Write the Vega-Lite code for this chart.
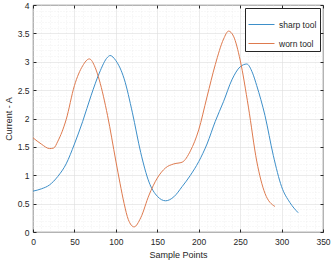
{
  "$schema": "https://vega.github.io/schema/vega-lite/v6.json",
  "width": 290,
  "height": 227,
  "autosize": {"type": "none"},
  "padding": {"left": 33, "top": 5, "right": 13, "bottom": 32},
  "background": "white",
  "config": {
    "font": "Liberation Sans",
    "view": {"stroke": "#262626", "strokeWidth": 0.8},
    "axis": {"labelFont": "Liberation Sans", "titleFont": "Liberation Sans", "labelColor": "#262626", "titleColor": "#262626", "labelFontSize": 8.5, "titleFontSize": 9, "titleFontWeight": "normal"}
  },
  "data": {"values": [
    {"x": 0, "y": 0.72, "tool": "sharp tool"},
    {"x": 10, "y": 0.76, "tool": "sharp tool"},
    {"x": 20, "y": 0.83, "tool": "sharp tool"},
    {"x": 30, "y": 0.98, "tool": "sharp tool"},
    {"x": 40, "y": 1.2, "tool": "sharp tool"},
    {"x": 50, "y": 1.55, "tool": "sharp tool"},
    {"x": 60, "y": 1.95, "tool": "sharp tool"},
    {"x": 70, "y": 2.4, "tool": "sharp tool"},
    {"x": 80, "y": 2.8, "tool": "sharp tool"},
    {"x": 90, "y": 3.08, "tool": "sharp tool"},
    {"x": 93, "y": 3.11, "tool": "sharp tool"},
    {"x": 100, "y": 3.02, "tool": "sharp tool"},
    {"x": 110, "y": 2.7, "tool": "sharp tool"},
    {"x": 120, "y": 2.1, "tool": "sharp tool"},
    {"x": 130, "y": 1.4, "tool": "sharp tool"},
    {"x": 140, "y": 0.88, "tool": "sharp tool"},
    {"x": 150, "y": 0.63, "tool": "sharp tool"},
    {"x": 160, "y": 0.55, "tool": "sharp tool"},
    {"x": 170, "y": 0.62, "tool": "sharp tool"},
    {"x": 180, "y": 0.8, "tool": "sharp tool"},
    {"x": 190, "y": 1.0, "tool": "sharp tool"},
    {"x": 200, "y": 1.24, "tool": "sharp tool"},
    {"x": 210, "y": 1.55, "tool": "sharp tool"},
    {"x": 220, "y": 1.95, "tool": "sharp tool"},
    {"x": 230, "y": 2.3, "tool": "sharp tool"},
    {"x": 240, "y": 2.68, "tool": "sharp tool"},
    {"x": 250, "y": 2.91, "tool": "sharp tool"},
    {"x": 258, "y": 2.96, "tool": "sharp tool"},
    {"x": 265, "y": 2.8, "tool": "sharp tool"},
    {"x": 270, "y": 2.58, "tool": "sharp tool"},
    {"x": 280, "y": 2.05, "tool": "sharp tool"},
    {"x": 290, "y": 1.35, "tool": "sharp tool"},
    {"x": 300, "y": 0.8, "tool": "sharp tool"},
    {"x": 310, "y": 0.52, "tool": "sharp tool"},
    {"x": 320, "y": 0.34, "tool": "sharp tool"},
    {"x": 0, "y": 1.66, "tool": "worn tool"},
    {"x": 10, "y": 1.55, "tool": "worn tool"},
    {"x": 20, "y": 1.47, "tool": "worn tool"},
    {"x": 25, "y": 1.48, "tool": "worn tool"},
    {"x": 30, "y": 1.6, "tool": "worn tool"},
    {"x": 40, "y": 1.98, "tool": "worn tool"},
    {"x": 50, "y": 2.58, "tool": "worn tool"},
    {"x": 60, "y": 2.93, "tool": "worn tool"},
    {"x": 68, "y": 3.05, "tool": "worn tool"},
    {"x": 75, "y": 2.9, "tool": "worn tool"},
    {"x": 80, "y": 2.68, "tool": "worn tool"},
    {"x": 90, "y": 2.05, "tool": "worn tool"},
    {"x": 100, "y": 1.25, "tool": "worn tool"},
    {"x": 105, "y": 0.86, "tool": "worn tool"},
    {"x": 110, "y": 0.5, "tool": "worn tool"},
    {"x": 115, "y": 0.22, "tool": "worn tool"},
    {"x": 122, "y": 0.09, "tool": "worn tool"},
    {"x": 130, "y": 0.25, "tool": "worn tool"},
    {"x": 140, "y": 0.65, "tool": "worn tool"},
    {"x": 150, "y": 0.95, "tool": "worn tool"},
    {"x": 160, "y": 1.13, "tool": "worn tool"},
    {"x": 170, "y": 1.2, "tool": "worn tool"},
    {"x": 180, "y": 1.23, "tool": "worn tool"},
    {"x": 190, "y": 1.43, "tool": "worn tool"},
    {"x": 200, "y": 1.8, "tool": "worn tool"},
    {"x": 210, "y": 2.38, "tool": "worn tool"},
    {"x": 220, "y": 2.95, "tool": "worn tool"},
    {"x": 230, "y": 3.4, "tool": "worn tool"},
    {"x": 236, "y": 3.54, "tool": "worn tool"},
    {"x": 242, "y": 3.45, "tool": "worn tool"},
    {"x": 250, "y": 3.03, "tool": "worn tool"},
    {"x": 260, "y": 2.2, "tool": "worn tool"},
    {"x": 270, "y": 1.25, "tool": "worn tool"},
    {"x": 280, "y": 0.68, "tool": "worn tool"},
    {"x": 292, "y": 0.45, "tool": "worn tool"}
  ]},
  "resolve": {"axis": {"x": "independent", "y": "independent"}},
  "layer": [
    {
      "mark": {"type": "line", "strokeOpacity": 0},
      "encoding": {
        "x": {"field": "x", "type": "quantitative", "scale": {"domain": [0, 350], "nice": false, "zero": false},
          "axis": {"values": [10,20,30,40,60,70,80,90,110,120,130,140,160,170,180,190,210,220,230,240,260,270,280,290,310,320,330,340], "labels": false, "ticks": false, "domain": false, "title": null, "grid": true, "gridColor": "#e8e8e8", "gridDash": [1, 2], "gridWidth": 0.6}},
        "y": {"field": "y", "type": "quantitative", "scale": {"domain": [0, 4], "nice": false, "zero": false},
          "axis": {"values": [0.1,0.2,0.3,0.4,0.6,0.7,0.8,0.9,1.1,1.2,1.3,1.4,1.6,1.7,1.8,1.9,2.1,2.2,2.3,2.4,2.6,2.7,2.8,2.9,3.1,3.2,3.3,3.4,3.6,3.7,3.8,3.9], "labels": false, "ticks": false, "domain": false, "title": null, "grid": true, "gridColor": "#e8e8e8", "gridDash": [1, 2], "gridWidth": 0.6}},
        "detail": {"field": "tool"}
      }
    },
    {
      "mark": {"type": "line", "strokeOpacity": 0},
      "encoding": {
        "x": {"field": "x", "type": "quantitative",
          "axis": {"orient": "top", "values": [0,50,100,150,200,250,300,350], "labels": false, "tickSize": -3, "tickColor": "#262626", "domain": false, "title": null, "grid": false}},
        "y": {"field": "y", "type": "quantitative",
          "axis": {"orient": "right", "values": [0,0.5,1,1.5,2,2.5,3,3.5,4], "labels": false, "tickSize": -3, "tickColor": "#262626", "domain": false, "title": null, "grid": false}},
        "detail": {"field": "tool"}
      }
    },
    {
      "mark": {"type": "line", "strokeWidth": 1, "interpolate": "monotone"},
      "encoding": {
        "x": {"field": "x", "type": "quantitative",
          "axis": {"orient": "bottom", "values": [0,50,100,150,200,250,300,350], "format": "d", "title": "Sample Points", "titlePadding": 5, "labelPadding": 8, "tickSize": -3, "tickColor": "#262626", "domain": false, "grid": true, "gridColor": "#dedede", "gridWidth": 0.6, "labelFlush": false}},
        "y": {"field": "y", "type": "quantitative",
          "axis": {"orient": "left", "values": [0,0.5,1,1.5,2,2.5,3,3.5,4], "format": "~g", "title": "Current - A", "titlePadding": 4, "labelPadding": 7, "tickSize": -3, "tickColor": "#262626", "domain": false, "grid": true, "gridColor": "#dedede", "gridWidth": 0.6, "labelFlush": false}},
        "color": {"field": "tool", "type": "nominal",
          "scale": {"domain": ["sharp tool", "worn tool"], "range": ["#3d8fc9", "#de7a4e"]},
          "legend": {"title": null, "orient": "top-right", "offset": 3, "padding": 3, "strokeColor": "#262626", "fillColor": "white", "symbolType": "stroke", "symbolSize": 676, "symbolStrokeWidth": 1, "labelFontSize": 8.5, "labelColor": "#262626", "rowPadding": 1, "labelOffset": 4}}
      }
    }
  ]
}
